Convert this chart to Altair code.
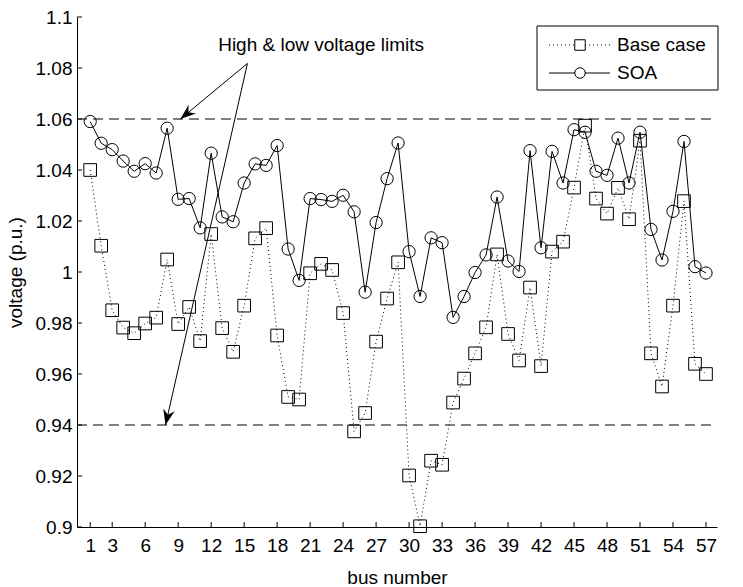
import math
import altair as alt
import pandas as pd

# ---- data -------------------------------------------------------------
bus = list(range(1, 58))

base_case = [1.040, 1.0103, 0.985, 0.9782, 0.976, 0.9798, 0.9821, 1.0049, 0.9796, 0.9863,
             0.9729, 1.0149, 0.978, 0.9687, 0.9868, 1.0132, 1.0172, 0.9751, 0.951, 0.950,
             0.9995, 1.0032, 1.0008, 0.9839, 0.9375, 0.9447, 0.9727, 0.9896, 1.0038, 0.9202,
             0.9003, 0.926, 0.9244, 0.9488, 0.9582, 0.9681, 0.9783, 1.0069, 0.9757, 0.9653,
             0.9939, 0.9631, 1.008, 1.0119, 1.0331, 1.0574, 1.0288, 1.0229, 1.033, 1.0207,
             1.0515, 0.9681, 0.9551, 0.9868, 1.0278, 0.964, 0.960]

soa = [1.059, 1.0505, 1.048, 1.0435, 1.0395, 1.0425, 1.0388, 1.0564, 1.0285, 1.0288,
       1.0173, 1.0466, 1.0216, 1.0197, 1.0349, 1.0424, 1.0418, 1.0496, 1.009, 0.9967,
       1.0288, 1.0284, 1.0277, 1.0301, 1.0236, 0.9921, 1.0194, 1.0366, 1.0506, 1.008,
       0.9904, 1.0134, 1.0115, 0.9822, 0.9904, 0.9998, 1.0067, 1.0294, 1.0043, 1.0002,
       1.0476, 1.0095, 1.0473, 1.0349, 1.0558, 1.0548, 1.0395, 1.0379, 1.0525, 1.0349,
       1.0548, 1.0167, 1.0047, 1.0238, 1.0512, 1.0021, 0.9996]

x_ticks = [1, 3, 6, 9, 12, 15, 18, 21, 24, 27, 30, 33, 36, 39, 42, 45, 48, 51, 54, 57]
y_ticks = [round(0.9 + 0.02 * i, 2) for i in range(11)]

voltage_limits = [1.06, 0.94]
series_names = ["Base case", "SOA"]

note_text = "High & low voltage limits"
note_x, note_y = 22.0, 1.089
arrow_from = (15.3, 1.0818)
arrow_to_x = [9.2, 7.85]
arrow_to_y = [1.06, 0.94]

# ---- geometry / style --------------------------------------------------
W, H = 640, 510
X_DOM = [-0.2, 58]
Y_DOM = [0.9, 1.1]
FONT = "Liberation Sans"
FS = 19
INK = "black"

xs = alt.Scale(domain=X_DOM, nice=False, zero=False)
ys = alt.Scale(domain=Y_DOM, nice=False, zero=False)

x_axis = alt.Axis(values=x_ticks, format="d", tickSize=0, labelPadding=9, grid=False,
                  labelFlush=False, title="bus number", titlePadding=13)
y_axis = alt.Axis(values=y_ticks, format="~g", tickSize=0, labelPadding=5, grid=False,
                  labelFlush=False, title="voltage (p.u.)", titlePadding=10)


def X(field):
    return alt.X(f"{field}:Q", scale=xs, axis=x_axis)


def Y(field):
    return alt.Y(f"{field}:Q", scale=ys, axis=y_axis)


series = pd.DataFrame({"bus": bus, "base": base_case, "soa": soa})
one = pd.DataFrame({"k": [0]})

# base case: dotted line with open squares
base_line = alt.Chart(series).mark_line(color=INK, strokeWidth=1, strokeDash=[1, 3]).encode(
    x=X("bus"), y=Y("base"))
base_pts = alt.Chart(series).mark_point(shape="square", size=160, filled=False, color=INK,
                                        strokeWidth=1, opacity=1).encode(
    x=X("bus"), y=Y("base"))

# limit lines
limits = alt.Chart(pd.DataFrame({"v": voltage_limits})).mark_rule(
    color=INK, strokeWidth=1, strokeDash=[10, 6]
).encode(y=Y("v"), x=alt.value(0), x2=alt.value(W))

# inward ticks
xtick_marks = alt.Chart(pd.DataFrame({"bus": x_ticks})).mark_rule(color=INK, strokeWidth=1).encode(
    x=X("bus"), y=alt.value(H), y2=alt.value(H - 5))
ytick_marks = alt.Chart(pd.DataFrame({"v": y_ticks})).mark_rule(color=INK, strokeWidth=1).encode(
    y=Y("v"), x=alt.value(0), x2=alt.value(5))

# SOA: solid line with open circles
soa_line = alt.Chart(series).mark_line(color=INK, strokeWidth=1).encode(
    x=X("bus"), y=Y("soa"))
soa_pts = alt.Chart(series).mark_point(shape="circle", size=150, filled=False, color=INK,
                                       strokeWidth=1, opacity=1).encode(
    x=X("bus"), y=Y("soa"))

# annotation text and arrows
note = alt.Chart(pd.DataFrame({"bus": [note_x], "v": [note_y], "t": [note_text]})).mark_text(
    font=FONT, fontSize=FS, color=INK, align="center", baseline="middle").encode(
    x=X("bus"), y=Y("v"), text="t:N")

sx = W / (X_DOM[1] - X_DOM[0])
sy = H / (Y_DOM[1] - Y_DOM[0])
angles = []
for tx, ty in zip(arrow_to_x, arrow_to_y):
    dx = (tx - arrow_from[0]) * sx
    dy = -(ty - arrow_from[1]) * sy
    angles.append(math.degrees(math.atan2(dx, -dy)) % 360)

arrows_df = pd.DataFrame({"bus": [arrow_from[0]] * 2, "v": [arrow_from[1]] * 2,
                          "bx": arrow_to_x, "bv": arrow_to_y, "ang": angles})
arrow_lines = alt.Chart(arrows_df).mark_rule(color=INK, strokeWidth=1).encode(
    x=X("bus"), y=Y("v"), x2="bx:Q", y2="bv:Q")
arrow_heads = alt.Chart(arrows_df).mark_point(
    shape="M0,0L0.75,2L0,1.35L-0.75,2Z", size=240, filled=True, color=INK, opacity=1,
    strokeWidth=0).encode(
    x=X("bx"), y=Y("bv"), angle=alt.Angle("ang:Q", scale=None))

# legend box
LEG_ROWS = [28, 56]
leg_box = alt.Chart(one).mark_rect(fill="white", stroke=INK, strokeWidth=1).encode(
    x=alt.value(460), x2=alt.value(641), y=alt.value(9), y2=alt.value(73))
leg_base_line = alt.Chart(one).mark_rule(color=INK, strokeWidth=1, strokeDash=[1, 3]).encode(
    x=alt.value(472), x2=alt.value(533), y=alt.value(LEG_ROWS[0]))
leg_base_pt = alt.Chart(one).mark_point(shape="square", size=110, filled=True, fill="white",
                                        stroke=INK, strokeWidth=1, opacity=1).encode(
    x=alt.value(503), y=alt.value(LEG_ROWS[0]))
leg_soa_line = alt.Chart(one).mark_rule(color=INK, strokeWidth=1).encode(
    x=alt.value(472), x2=alt.value(533), y=alt.value(LEG_ROWS[1]))
leg_soa_pt = alt.Chart(one).mark_point(shape="circle", size=110, filled=True, fill="white",
                                       stroke=INK, strokeWidth=1, opacity=1).encode(
    x=alt.value(503), y=alt.value(LEG_ROWS[1]))
leg_texts = [
    alt.Chart(one).mark_text(font=FONT, fontSize=FS, color=INK, align="left",
                             baseline="middle", text=name).encode(
        x=alt.value(540), y=alt.value(row))
    for name, row in zip(series_names, LEG_ROWS)
]

chart = alt.layer(
    base_line, limits, xtick_marks, ytick_marks,
    base_pts, soa_line, soa_pts,
    arrow_lines, arrow_heads, note,
    leg_box, leg_base_line, leg_base_pt, leg_soa_line, leg_soa_pt, *leg_texts,
).properties(
    width=W, height=H,
    autosize=alt.AutoSizeParams(type="none"),
    padding={"left": 77, "top": 17, "right": 26, "bottom": 60},
    background="white",
).configure_view(stroke=None).configure_axis(
    domainColor=INK, domainWidth=1, labelColor=INK, titleColor=INK,
    labelFont=FONT, titleFont=FONT, labelFontSize=FS, titleFontSize=FS,
    titleFontWeight="normal",
)

chart.save("out.html", embed_options={"renderer": "svg", "actions": False})
